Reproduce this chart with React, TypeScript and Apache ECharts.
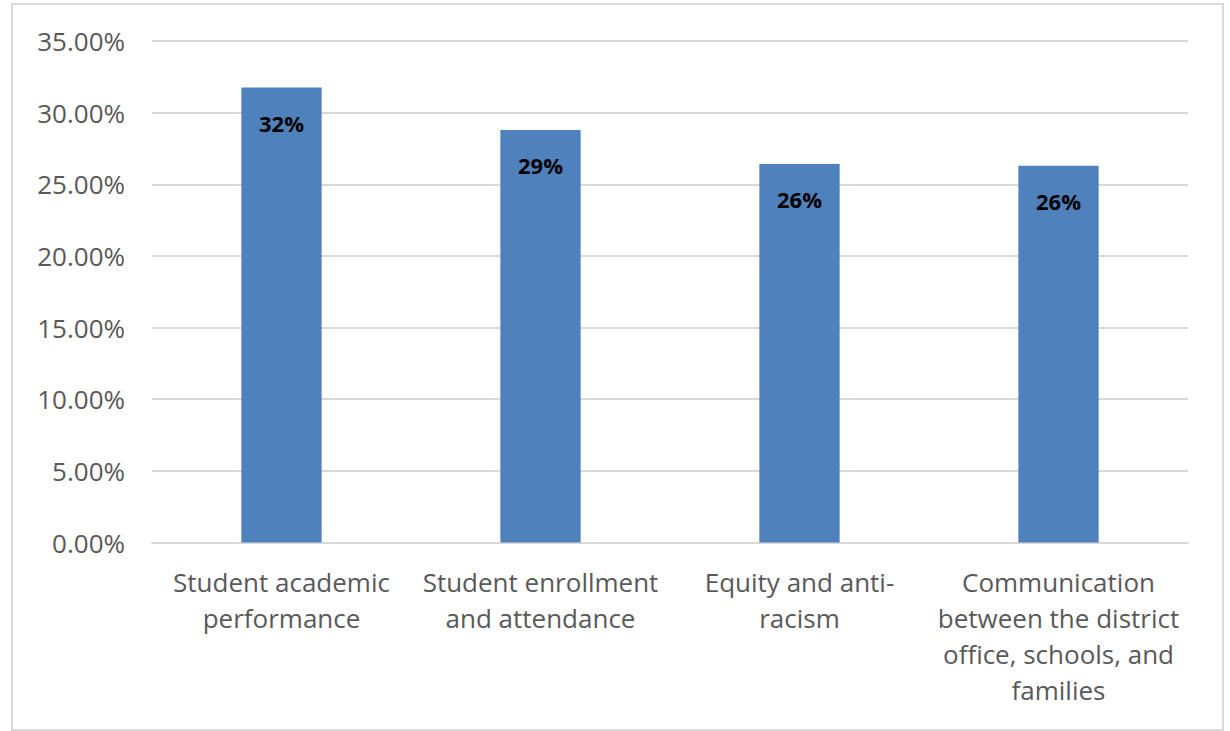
import React, { useEffect, useRef } from "react";
import * as echarts from "echarts";

const categories = [
  "Student academic\nperformance",
  "Student enrollment\nand attendance",
  "Equity and anti-\nracism",
  "Communication\nbetween the district\noffice, schools, and\nfamilies",
];
const values = [31.75, 28.79, 26.42, 26.3];
const yMin = 0;
const yMax = 35;
const yInterval = 5;

export default function App() {
  const ref = useRef<HTMLDivElement>(null);
  useEffect(() => {
    if (!ref.current) return;
    const chart = echarts.init(ref.current, null, { renderer: "svg" });
    chart.setOption({
      animation: false,
      backgroundColor: "#ffffff",
      graphic: [
        {
          type: "rect",
          shape: { x: 12, y: 4, width: 1211, height: 726 },
          style: { fill: "none", stroke: "#d9d9d9", lineWidth: 2 },
          silent: true,
        },
      ],
      grid: { left: 152, right: 42, top: 41, bottom: 188.5, containLabel: false },
      xAxis: {
        type: "category",
        data: categories,
        axisLine: { show: true, lineStyle: { color: "#d9d9d9", width: 2 } },
        axisTick: { show: false },
        axisLabel: {
          interval: 0,
          margin: 21,
          fontFamily: "Open Sans",
          fontSize: 26,
          lineHeight: 36,
          color: "#595959",
          align: "center",
        },
      },
      yAxis: {
        type: "value",
        min: yMin,
        max: yMax,
        interval: yInterval,
        axisLine: { show: false },
        axisTick: { show: false },
        splitLine: { lineStyle: { color: "#d9d9d9", width: 2 } },
        axisLabel: {
          margin: 27,
          fontFamily: "Open Sans",
          fontSize: 26,
          color: "#595959",
          formatter: (v: number) => v.toFixed(2) + "%",
        },
      },
      series: [
        {
          type: "bar",
          data: values,
          barWidth: "31%",
          itemStyle: { color: "#4F81BD" },
          label: {
            show: true,
            position: "insideTop",
            distance: 24,
            fontFamily: "Open Sans",
            fontWeight: "bold",
            fontSize: 22,
            color: "#000000",
            formatter: (p: any) => Math.round(p.value) + "%",
          },
        },
      ],
    });
    return () => chart.dispose();
  }, []);
  return (
    <div
      ref={ref}
      style={{ position: "absolute", left: 0, top: 0, width: 1230, height: 731 }}
    />
  );
}
